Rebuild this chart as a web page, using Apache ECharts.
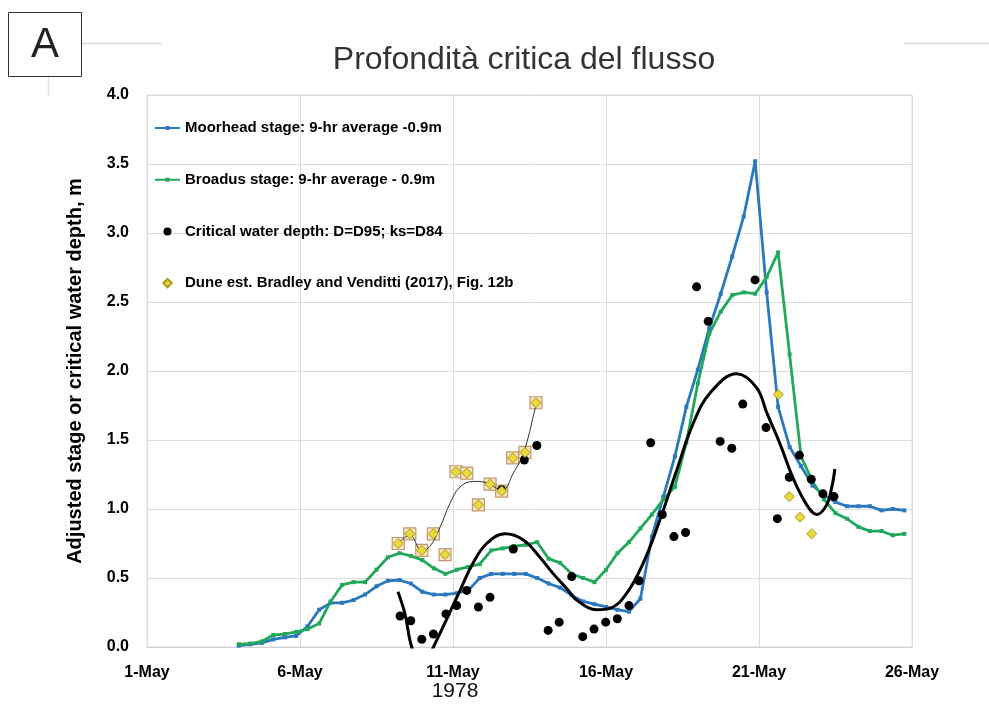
<!DOCTYPE html>
<html><head><meta charset="utf-8">
<script src="https://cdn.jsdelivr.net/npm/echarts@6/dist/echarts.min.js"></script>
<style>html,body{margin:0;padding:0;background:#fff}#c{width:989px;height:704px}</style>
</head><body><div id="c"></div>
<script>
// ---- DATA ----
const seriesNames = [
  'Moorhead stage: 9-hr average -0.9m',
  'Broadus stage: 9-hr average - 0.9m',
  'Critical water depth: D=D95; ks=D84',
  'Dune est. Bradley and Venditti (2017), Fig. 12b'
];
const xTickDays = [1, 6, 11, 16, 21, 26];
const monthLabel = 'May';
const stageDays = [4.000,4.375,4.750,5.125,5.500,5.875,6.250,6.625,7.000,7.375,7.750,8.125,8.500,8.875,9.250,9.625,10.000,10.375,10.750,11.125,11.500,11.875,12.250,12.625,13.000,13.375,13.750,14.125,14.500,14.875,15.250,15.625,16.000,16.375,16.750,17.125,17.500,17.875,18.250,18.625,19.000,19.375,19.750,20.125,20.500,20.875,21.250,21.625,22.000,22.375,22.750,23.125,23.500,23.875,24.250,24.625,25.000,25.375,25.750];
const moorheadStage = [0.01,0.02,0.03,0.055,0.07,0.08,0.15,0.27,0.32,0.32,0.34,0.38,0.44,0.48,0.485,0.46,0.40,0.38,0.38,0.39,0.41,0.50,0.53,0.53,0.53,0.53,0.50,0.46,0.43,0.375,0.33,0.31,0.29,0.27,0.256,0.35,0.80,1.09,1.38,1.74,2.01,2.31,2.56,2.83,3.12,3.52,2.57,1.74,1.45,1.31,1.17,1.10,1.05,1.02,1.02,1.02,0.99,1.00,0.99];
const broadusStage = [0.02,0.025,0.04,0.087,0.094,0.11,0.13,0.17,0.33,0.45,0.47,0.47,0.56,0.65,0.68,0.66,0.63,0.57,0.53,0.56,0.58,0.60,0.70,0.715,0.73,0.74,0.76,0.64,0.61,0.53,0.50,0.47,0.56,0.68,0.76,0.86,0.96,1.07,1.16,1.48,1.91,2.27,2.43,2.55,2.57,2.56,2.68,2.86,2.12,1.38,1.20,1.07,0.97,0.93,0.87,0.84,0.84,0.81,0.82];
const critDays = [9.27,9.62,9.98,10.36,10.77,11.12,11.45,11.83,12.21,12.59,12.97,13.33,13.74,14.11,14.47,14.88,15.24,15.61,15.99,16.37,16.75,17.08,17.46,17.84,18.22,18.60,18.96,19.34,19.73,20.11,20.47,20.87,21.23,21.60,21.99,22.32,22.71,23.09,23.45];
const critDepth = [0.225,0.19,0.056,0.094,0.24,0.30,0.41,0.29,0.36,1.14,0.71,1.355,1.46,0.12,0.18,0.51,0.075,0.13,0.18,0.205,0.30,0.48,1.48,0.96,0.80,0.83,2.61,2.36,1.49,1.44,1.76,2.66,1.59,0.93,1.23,1.39,1.215,1.11,1.09];
const critTrendDays = [9.20,9.43,9.65,9.99,10.36,10.79,11.23,11.66,12.10,12.70,13.30,13.84,14.28,14.77,15.04,15.70,16.13,16.68,17.22,17.76,18.31,18.85,19.40,20.27,20.92,21.25,21.69,22.12,22.56,22.89,23.21,23.38,23.48];
const critTrendVals = [0.40,0.24,0.0,-0.16,0.0,0.20,0.41,0.61,0.75,0.82,0.775,0.65,0.53,0.41,0.34,0.27,0.28,0.39,0.61,0.92,1.28,1.62,1.84,1.98,1.88,1.70,1.47,1.22,1.03,0.96,1.03,1.16,1.29];
const duneDays = [9.21,9.59,9.98,10.36,10.74,11.10,11.45,11.83,12.21,12.59,12.95,13.35,13.71,21.63,21.99,22.34,22.72];
const duneVals = [0.75,0.82,0.70,0.82,0.67,1.27,1.26,1.03,1.18,1.13,1.37,1.41,1.77,1.83,1.09,0.94,0.82];
const duneBoxedCount = 13;
const duneTrendDays = [9.21,9.59,9.98,10.25,10.58,10.90,11.23,11.66,12.10,12.43,12.64,12.97,13.24,13.46,13.62,13.73];
const duneTrendVals = [0.75,0.81,0.70,0.73,0.87,1.04,1.16,1.20,1.19,1.15,1.14,1.26,1.37,1.52,1.67,1.77];

// ---- CHART ----
const zip = (a, b) => a.map((v, i) => [v, b[i]]);
const chart = echarts.init(document.getElementById('c'));
const F = 'Liberation Sans, Arial, sans-serif';
const BLUE = '#2A78BE', GREEN = '#22A85A';
const lineIcon = 'path://M0,0M25,10M0,4h25v2h-25zM10.5,3h4v4h-4z';
const dotIcon = 'path://M0,0M10,10M5,1A4,4 0 1,1 4.99,1Z';
const smallDiamond = 'path://M0,0M10,10M5,0.8L9.2,5L5,9.2L0.8,5Z';
chart.setOption({
  animation: false,
  backgroundColor: '#fff',
  grid: {left: 147, right: 77, top: 95, bottom: 57, show: true, borderColor: '#dcdcdc', borderWidth: 1},
  legend: {
    orient: 'vertical', left: 155, top: 120.5, padding: 0, itemWidth: 25, itemHeight: 10, itemGap: 36.7,
    data: [
      {name: seriesNames[0], icon: lineIcon},
      {name: seriesNames[1], icon: lineIcon},
      {name: seriesNames[2], icon: dotIcon},
      {name: seriesNames[3], icon: smallDiamond}
    ],
    textStyle: {fontFamily: F, fontWeight: 'bold', fontSize: 15, color: '#000'}
  },
  xAxis: {
    type: 'value', min: xTickDays[0], max: xTickDays[xTickDays.length - 1], interval: 5,
    axisLine: {show: true, lineStyle: {color: '#d0d0d0', width: 1}},
    axisTick: {show: false},
    splitLine: {show: true, lineStyle: {color: '#dcdcdc', width: 1}},
    axisLabel: {margin: 18, fontFamily: F, fontWeight: 'bold', fontSize: 16, color: '#000',
      formatter: v => v + '-' + monthLabel}
  },
  yAxis: {
    type: 'value', min: 0, max: 4, interval: 0.5,
    name: 'Adjusted stage or critical water depth, m', nameLocation: 'middle', nameGap: 62,
    nameTextStyle: {fontFamily: F, fontWeight: 'bold', fontSize: 20, color: '#000'},
    axisLine: {show: false}, axisTick: {show: false},
    splitLine: {show: true, lineStyle: {color: '#dcdcdc', width: 1}},
    axisLabel: {margin: 18, fontFamily: F, fontWeight: 'bold', fontSize: 16, color: '#000',
      formatter: v => v.toFixed(1)}
  },
  graphic: [
    {type: 'rect', shape: {x: 8.5, y: 12.5, width: 73, height: 64}, style: {fill: '#fff', stroke: '#333', lineWidth: 1}},
    {type: 'text', x: 45, y: 45, style: {text: 'A', font: '42px Liberation Sans, Arial, sans-serif', fill: '#222', textAlign: 'center', textVerticalAlign: 'middle'}},
    {type: 'line', shape: {x1: 82, y1: 43.5, x2: 162, y2: 43.5}, style: {stroke: '#e2e2e2', lineWidth: 2}},
    {type: 'line', shape: {x1: 904, y1: 43.5, x2: 989, y2: 43.5}, style: {stroke: '#e2e2e2', lineWidth: 2}},
    {type: 'line', shape: {x1: 48.5, y1: 77, x2: 48.5, y2: 96}, style: {stroke: '#e2e2e2', lineWidth: 1.5}},
    {type: 'text', x: 524, y: 60, style: {text: 'Profondità critica del flusso', font: '32px Liberation Sans, Arial, sans-serif', fill: '#333', textAlign: 'center', textVerticalAlign: 'middle'}},
    {type: 'text', x: 455, y: 691, style: {text: '1978', font: '21px Liberation Sans, Arial, sans-serif', fill: '#111', textAlign: 'center', textVerticalAlign: 'middle'}}
  ],
  series: [
    {name: seriesNames[0], type: 'line', data: zip(stageDays, moorheadStage), color: BLUE,
      lineStyle: {width: 2.8, color: BLUE}, itemStyle: {color: BLUE}, symbol: 'rect', symbolSize: 4, showSymbol: true, z: 3},
    {name: seriesNames[1], type: 'line', data: zip(stageDays, broadusStage), color: GREEN,
      lineStyle: {width: 2.8, color: GREEN}, itemStyle: {color: GREEN}, symbol: 'rect', symbolSize: 4, showSymbol: true, z: 3},
    {name: 'critTrend', type: 'line', data: zip(critTrendDays, critTrendVals), smooth: 0.4, showSymbol: false,
      symbol: 'none', lineStyle: {width: 3, color: '#000'}, color: '#000', z: 4},
    {name: 'duneTrend', type: 'line', data: zip(duneTrendDays, duneTrendVals), smooth: 0.4, showSymbol: false,
      symbol: 'none', lineStyle: {width: 1, color: '#333'}, color: '#333', z: 6},
    {name: 'duneBox', type: 'scatter', data: zip(duneDays.slice(0, duneBoxedCount), duneVals.slice(0, duneBoxedCount)),
      symbol: 'rect', symbolSize: 12, itemStyle: {color: '#F4E6C8', borderColor: '#C4976A', borderWidth: 1.2, opacity: 1}, z: 5},
    {name: seriesNames[2], type: 'scatter', data: zip(critDays, critDepth), symbolSize: 9,
      itemStyle: {color: '#000', opacity: 1}, color: '#000', z: 7},
    {name: seriesNames[3], type: 'scatter', data: zip(duneDays, duneVals), symbol: 'diamond', symbolSize: 10,
      itemStyle: {color: '#EAD93A', borderColor: '#A99A1C', borderWidth: 1, opacity: 1}, color: '#EAD93A', z: 8}
  ]
});
</script></body></html>
